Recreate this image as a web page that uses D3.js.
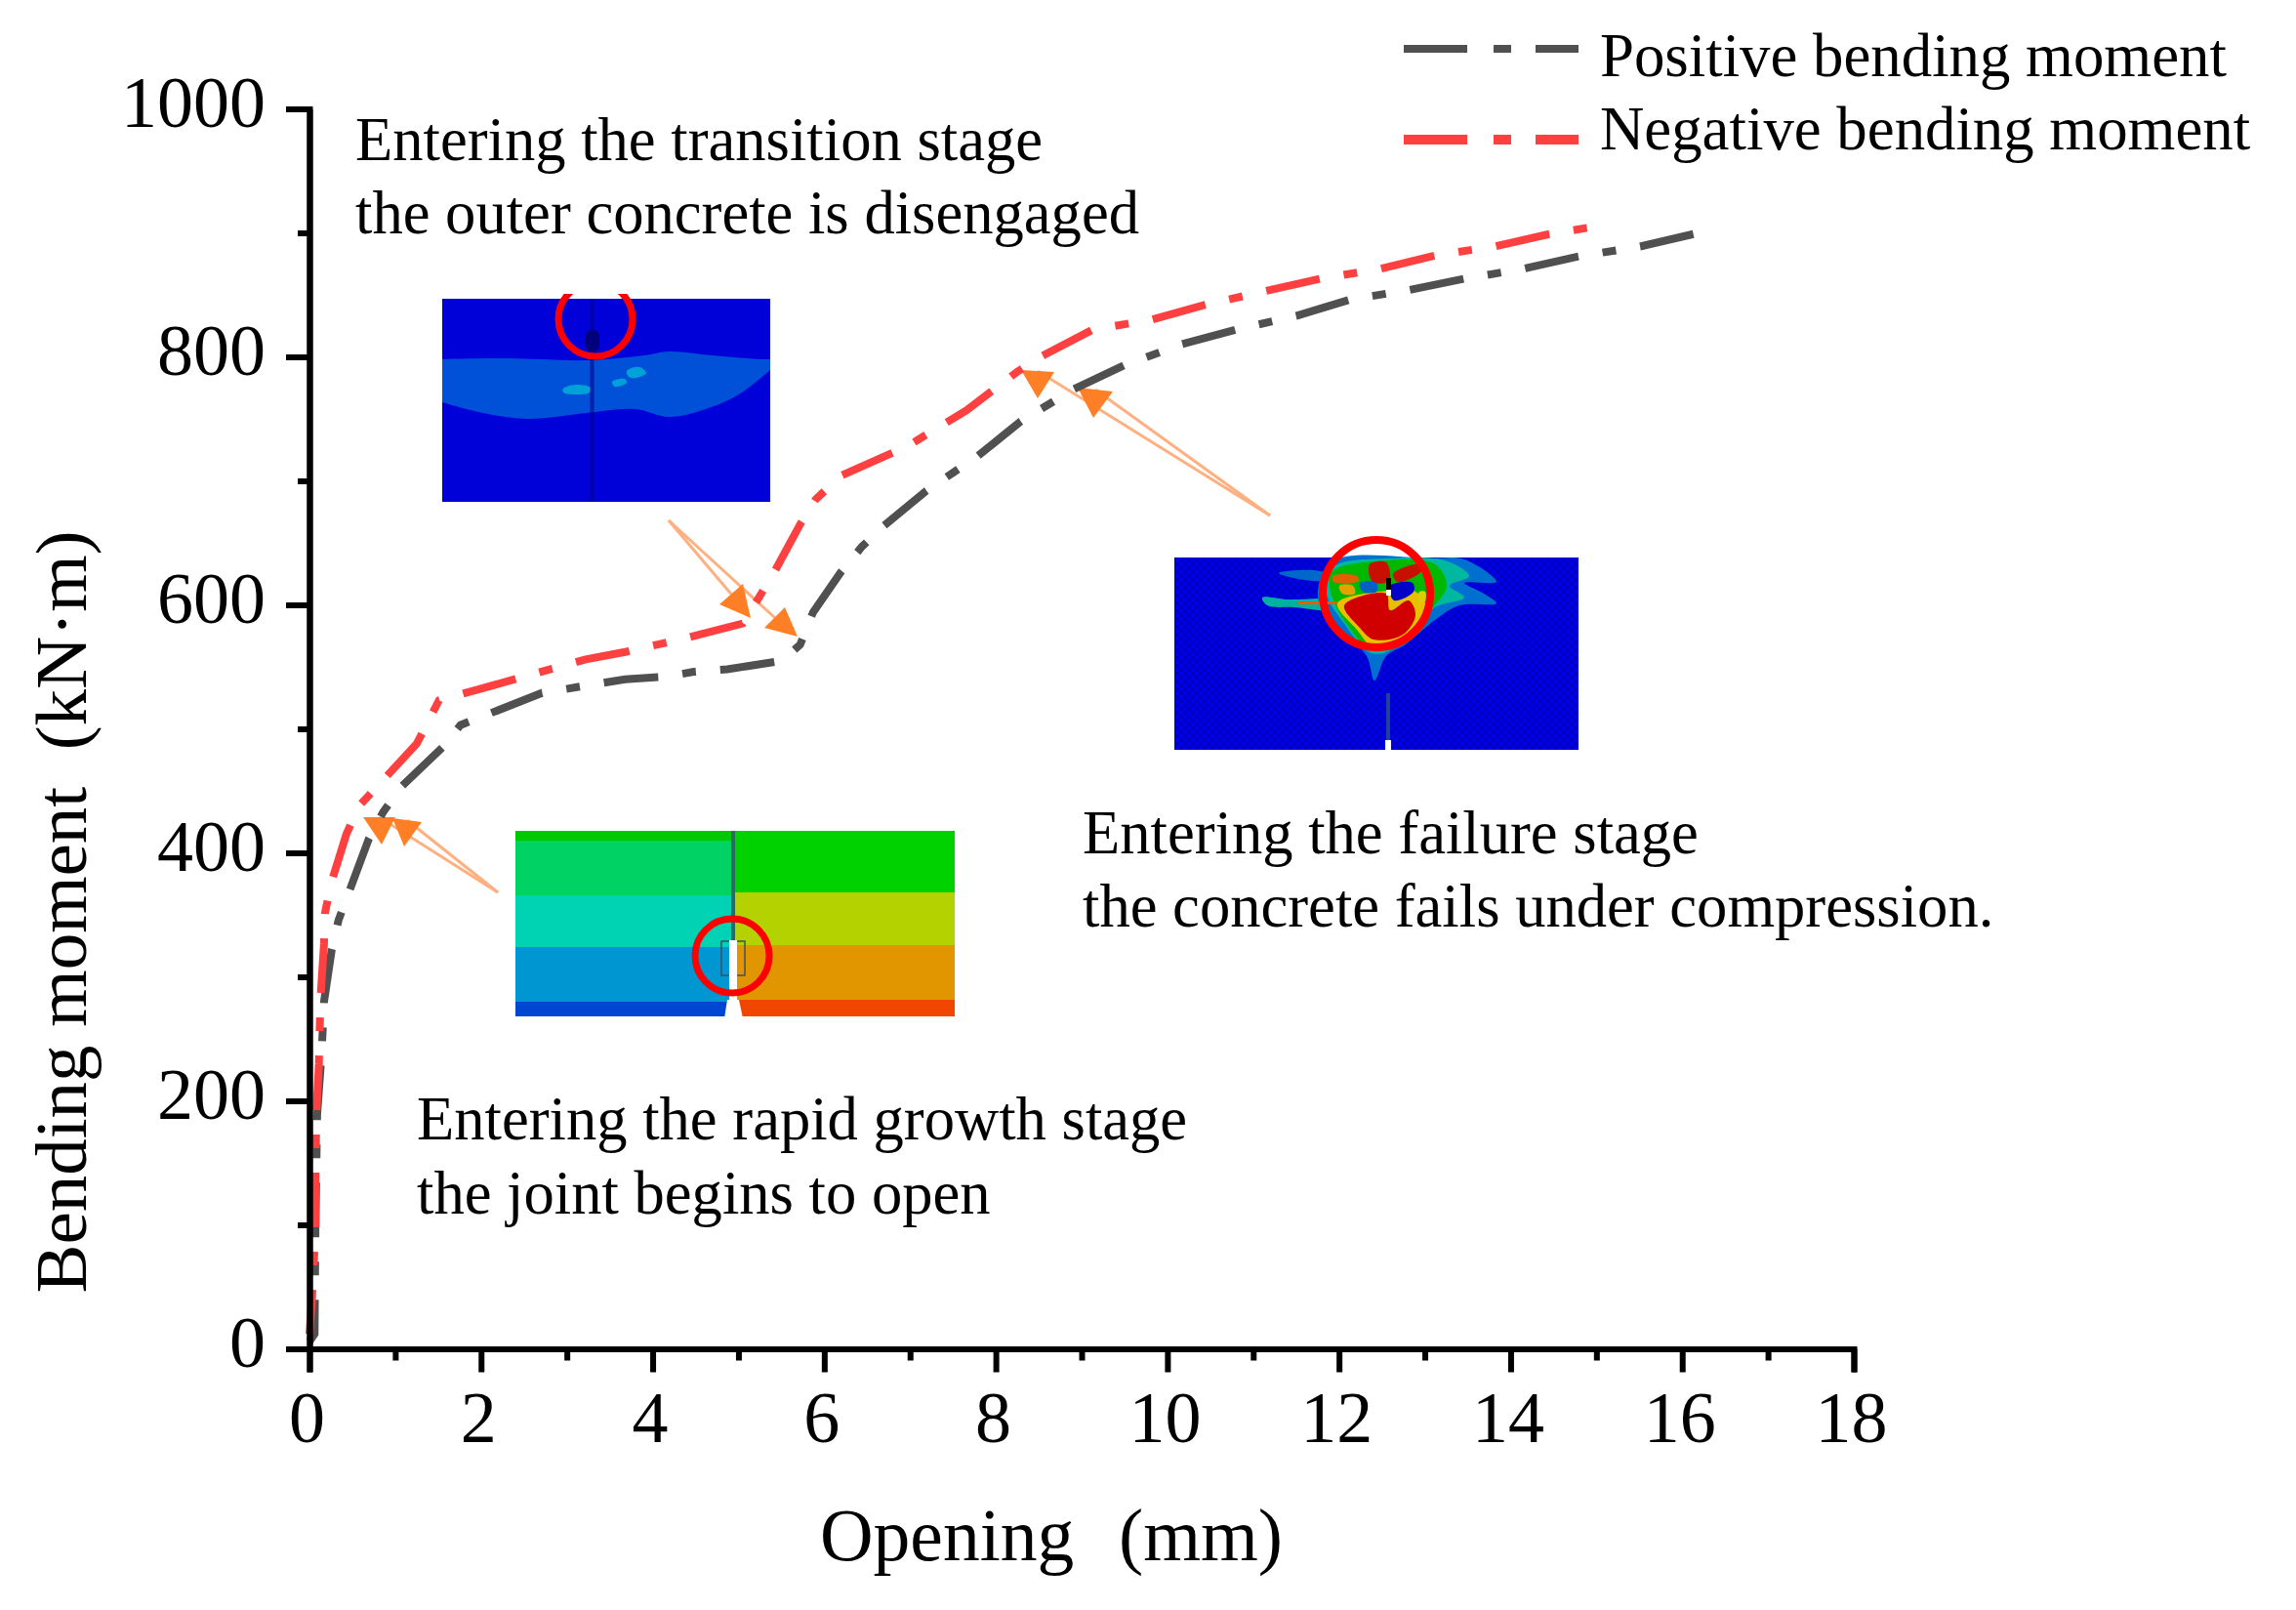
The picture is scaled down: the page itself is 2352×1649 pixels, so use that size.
<!DOCTYPE html>
<html><head><meta charset="utf-8">
<script src="https://cdn.jsdelivr.net/npm/d3@7"></script>
<style>html,body{margin:0;background:#fff}svg{display:block}text{font-family:"Liberation Serif",serif;fill:#000}</style>
</head><body><svg id="c" width="2352" height="1649"></svg>
<script>
const posX=[0,0.06,0.07,0.09,0.13,0.15,0.17,0.26,0.34,0.47,0.69,0.86,1.08,1.55,1.76,2.71,3.68,4.14,4.48,4.87,5.51,5.72,5.87,6.19,6.44,6.70,7.19,7.51,7.79,8.29,8.91,9.49,10.16,10.80,11.50,12.12,12.82,13.46,14.15,14.79,15.51,16.13];
const posY=[6,12,96,189,227,250,280,322,346,370,411,433,454,485,503,529,540,542,546,548,555,568,594,626,647,664,692,707,720,748,774,793,810,822,833,846,854,863,871,881,889,899];
const negX=[0,0.03,0.07,0.07,0.08,0.11,0.12,0.13,0.17,0.18,0.25,0.43,0.58,0.81,1.25,1.51,2.03,3.22,3.68,4.06,4.43,5.05,5.24,5.43,5.72,5.90,6.19,6.97,7.66,8.25,8.52,9.13,9.82,10.44,11.14,11.78,12.48,13.13,13.81,14.45,14.89];
const negY=[12,41,96,137,189,230,259,284,327,351,375,415,438,455,488,523,533,556,562,568,574,585,606,628,665,685,704,728,757,788,800,822,830,842,853,863,871,882,889,899,904];
const xTicks=[0,2,4,6,8,10,12,14,16,18];
const yTicks=[0,200,400,600,800,1000];
const xMinor=[1,3,5,7,9,11,13,15,17];
const yMinor=[100,300,500,700,900];
const seriesNames=["Positive bending moment","Negative bending moment"];
const seriesColors=["#505050","#ff4040"];
const notes=[
 {x:364,y:163.5,t:"Entering the transition stage"},
 {x:364,y:238.5,t:"the outer concrete is disengaged"},
 {x:1109,y:873.5,t:"Entering the failure stage"},
 {x:1109,y:948.5,t:"the concrete fails under compression."},
 {x:427,y:1166.5,t:"Entering the rapid growth stage"},
 {x:427,y:1242.5,t:"the joint begins to open"}];

const svg=d3.select("#c");
const x=d3.scaleLinear().domain([0,18]).range([317,1899]);
const y=d3.scaleLinear().domain([0,1000]).range([1381.5,111.5]);

function poly(g,pts,fill){g.append("path").attr("d","M"+pts.map(p=>p.join(",")).join("L")+"Z").attr("fill",fill);}
function blob(g,pts,fill){g.append("path").attr("d",d3.line().curve(d3.curveCatmullRomClosed)(pts)).attr("fill",fill);}
const defs=svg.append("defs");
const pat=defs.append("pattern").attr("id","mesh").attr("width",8).attr("height",8).attr("patternUnits","userSpaceOnUse");
pat.append("rect").attr("width",8).attr("height",8).attr("fill","#0000c4");
pat.append("rect").attr("width",4).attr("height",4).attr("fill","#0000e8");
pat.append("rect").attr("x",4).attr("y",4).attr("width",4).attr("height",4).attr("fill","#0000e8");
defs.append("clipPath").attr("id","cut").append("rect").attr("x",440).attr("y",301).attr("width",360).attr("height",230);
defs.append("clipPath").attr("id","box1").append("rect").attr("x",453).attr("y",306).attr("width",336).attr("height",208);

// inset: transition stage
const a=svg.append("g");
a.append("rect").attr("x",453).attr("y",306).attr("width",336).attr("height",208).attr("fill","#0000d8");
a.append("path").attr("clip-path","url(#box1)").attr("fill","#0050d8")
 .attr("d",d3.line().curve(d3.curveCatmullRom)([[440,368],[520,367],[600,369],[660,364],[685,360],[730,364],[789,368],[800,366],[760,402],[720,420],[685,427],[650,419],[600,423],[540,429],[490,422],[440,408]])+"Z");
blob(a,[[577,398],[590,394],[605,397],[604,402],[592,404],[577,402]],"#00a0d8");
blob(a,[[627,391],[640,388],[642,392],[630,396]],"#00a0d8");
blob(a,[[642,380],[655,376],[662,382],[652,387],[644,386]],"#00a0d8");
a.append("rect").attr("x",604.5).attr("y",306).attr("width",4).attr("height",208).attr("fill","#00008c").attr("opacity",.6);
a.append("rect").attr("x",600).attr("y",338).attr("width",14).attr("height",22).attr("rx",6).attr("fill","#00007a");
a.append("circle").attr("cx",610).attr("cy",327).attr("r",38).attr("fill","none").attr("stroke","#ff0000").attr("stroke-width",7).attr("clip-path","url(#cut)");

// inset: failure stage
const c=svg.append("g");
c.append("rect").attr("x",1203).attr("y",571).attr("width",414).attr("height",197).attr("fill","url(#mesh)");
blob(c,[[1310,587],[1345,584],[1360,588],[1360,594],[1330,593]],"#0068c8");
blob(c,[[1293,612],[1320,614],[1370,615],[1370,624],[1325,622],[1298,620]],"#00b0a0");
blob(c,[[1465,572],[1500,573],[1533,596],[1500,597],[1520,608],[1533,618],[1495,620],[1470,635],[1440,660],[1420,672],[1408,697],[1400,672],[1370,640],[1350,612],[1365,575]],"#0070d0");
blob(c,[[1370,578],[1420,572],[1480,574],[1505,590],[1485,600],[1500,612],[1470,622],[1445,648],[1420,668],[1402,668],[1378,640],[1360,612],[1358,590]],"#00b8a0");
blob(c,[[1365,585],[1420,574],[1470,578],[1482,600],[1468,622],[1445,645],[1420,664],[1402,664],[1380,640],[1368,620],[1362,600]],"#00b800");
blob(c,[[1370,618],[1422,605],[1450,606],[1462,625],[1448,650],[1420,662],[1405,662],[1390,645]],"#e8c000");
blob(c,[[1377,620],[1420,608],[1424,625],[1443,615],[1450,630],[1437,650],[1407,655],[1393,643]],"#d00000");
blob(c,[[1403,578],[1420,576],[1423,595],[1406,596]],"#c81000");
blob(c,[[1427,588],[1453,578],[1456,585],[1432,596]],"#c81000");
blob(c,[[1372,600],[1386,600],[1388,608],[1375,608]],"#e8a000");
blob(c,[[1365,590],[1390,590],[1392,595],[1366,596]],"#e06000");
blob(c,[[1424,600],[1447,597],[1448,606],[1428,615]],"#0000c8");
blob(c,[[1393,597],[1410,597],[1410,606],[1396,606]],"#0060c8");
blob(c,[[1454,606],[1460,606],[1460,616],[1454,616]],"#d8d000");
c.append("rect").attr("x",1330).attr("y",616).attr("width",40).attr("height",3).attr("fill","#e06000");
c.append("rect").attr("x",1420).attr("y",592).attr("width",5).attr("height",12).attr("fill","#000");
c.append("rect").attr("x",1420).attr("y",604).attr("width",5).attr("height",6).attr("fill","#fff");
c.append("rect").attr("x",1419).attr("y",758).attr("width",6).attr("height",12).attr("fill","#fff");
c.append("rect").attr("x",1420).attr("y",710).attr("width",4).attr("height",48).attr("fill","#2040a0");
c.append("circle").attr("cx",1410).attr("cy",608).attr("r",55).attr("fill","none").attr("stroke","#ff0000").attr("stroke-width",8);

// inset: rapid growth stage
const b=svg.append("g");
[[851,10,"#00c800"],[861,56,"#00d264"],[917,53,"#00d2b4"],[970,56,"#0096d2"],[1026,15,"#0046d2"]].forEach(r=>b.append("rect").attr("x",528).attr("y",r[0]).attr("width",222).attr("height",r[1]).attr("fill",r[2]));
[[851,63,"#00d200"],[914,54,"#b4d200"],[968,56,"#e19600"],[1024,17,"#f04600"]].forEach(r=>b.append("rect").attr("x",752).attr("y",r[0]).attr("width",226).attr("height",r[1]).attr("fill",r[2]));
b.append("rect").attr("x",749).attr("y",851).attr("width",4).attr("height",118).attr("fill","#2a6a60");
poly(b,[[745,1024],[757,1024],[761,1043],[742,1043]],"#fff");
b.append("rect").attr("x",739).attr("y",964).attr("width",24).attr("height",35).attr("fill","none").attr("stroke","#405060").attr("stroke-width",1.5);
b.append("rect").attr("x",747).attr("y",963).attr("width",8).attr("height",62).attr("fill","#fff");
b.append("circle").attr("cx",750).attr("cy",979).attr("r",38).attr("fill","none").attr("stroke","#ff0000").attr("stroke-width",7);

// arrows
const arrows=[
 {tail:[510,914],tip:[391,865],h:[[372,837],[405,837]]},
 {tail:[510,914],tip:[414,867],h:[[402,838],[432,842]]},
 {tail:[685,533],tip:[769,633],h:[[761,598],[737,619]]},
 {tail:[685,533],tip:[817,652],h:[[804,622],[783,643]]},
 {tail:[1301,528],tip:[1063,408],h:[[1046,379],[1080,381]]},
 {tail:[1301,528],tip:[1120,428],h:[[1104,397],[1140,401]]}];
const ag=svg.append("g");
arrows.forEach(d=>{
 const m=[(d.h[0][0]+d.h[1][0])/2,(d.h[0][1]+d.h[1][1])/2];
 ag.append("line").attr("x1",d.tail[0]).attr("y1",d.tail[1]).attr("x2",m[0]).attr("y2",m[1]).attr("stroke","#ffb080").attr("stroke-width",3);
});
arrows.forEach(d=>poly(ag,[d.tip,d.h[0],d.h[1]],"#ff7f27"));

// series
const line=d3.line().x(d=>x(d[0])).y(d=>y(d[1]));
const dash=[56,25,14,25], period=d3.sum(dash), endAt=[56,95];
[[posX,posY],[negX,negY]].forEach((s,i)=>{
 const p=svg.append("path").datum(d3.zip(s[0],s[1])).attr("d",line).attr("fill","none")
   .attr("stroke",seriesColors[i]).attr("stroke-width",8).attr("stroke-dasharray",dash.join(" "));
 const L=p.node().getTotalLength();
 p.attr("stroke-dashoffset",((endAt[i]-L)%period+period)%period);
});

// axes
const ax=svg.append("g").attr("transform","translate(0,1381.5)");
ax.call(d3.axisBottom(x).tickValues(xTicks).tickSize(24).tickFormat(d3.format("d")));
const ax2=svg.append("g").attr("transform","translate(0,1381.5)");
ax2.call(d3.axisBottom(x).tickValues(xMinor).tickSize(12).tickSizeOuter(0).tickFormat(""));
const ay=svg.append("g").attr("transform","translate(317,0)");
ay.call(d3.axisLeft(y).tickValues(yTicks).tickSize(24).tickFormat(d3.format("d")));
const ay2=svg.append("g").attr("transform","translate(317,0)");
ay2.call(d3.axisLeft(y).tickValues(yMinor).tickSize(12).tickSizeOuter(0).tickFormat(""));
[ax,ax2,ay,ay2].forEach(g=>{
 g.selectAll("path").attr("stroke","#000").attr("stroke-width",6);
 g.selectAll("line").attr("stroke","#000").attr("stroke-width",6);
 g.selectAll("text").attr("font-size",74).attr("font-family","Liberation Serif").attr("fill","#000");
});
ax.selectAll("text").attr("y",95.5).attr("dy",0).attr("dx",-3);
ay.selectAll("text").attr("x",-45).attr("y",18).attr("dy",0);

// titles
svg.append("text").attr("x",1077).attr("y",1598).attr("text-anchor","middle").attr("font-size",75.6).attr("word-spacing",4).attr("xml:space","preserve").text("Opening  (mm)");
svg.append("text").attr("transform","translate(88,934) rotate(-90)").attr("text-anchor","middle").attr("font-size",75).attr("xml:space","preserve").text("Bending moment  (kN·m)");

// notes
notes.forEach(n=>svg.append("text").attr("x",n.x).attr("y",n.y).attr("font-size",62.6).text(n.t));

// legend
const ly=[50,143], ltx=1639, lby=[78,153], lw=[8,10];
seriesNames.forEach((n,i)=>{
 svg.append("line").attr("x1",1438).attr("x2",1617).attr("y1",ly[i]).attr("y2",ly[i])
  .attr("stroke",seriesColors[i]).attr("stroke-width",lw[i]).attr("stroke-dasharray","65 27 18 25 44");
 svg.append("text").attr("x",ltx).attr("y",lby[i]).attr("font-size",62.8).text(n);
});
</script></body></html>
